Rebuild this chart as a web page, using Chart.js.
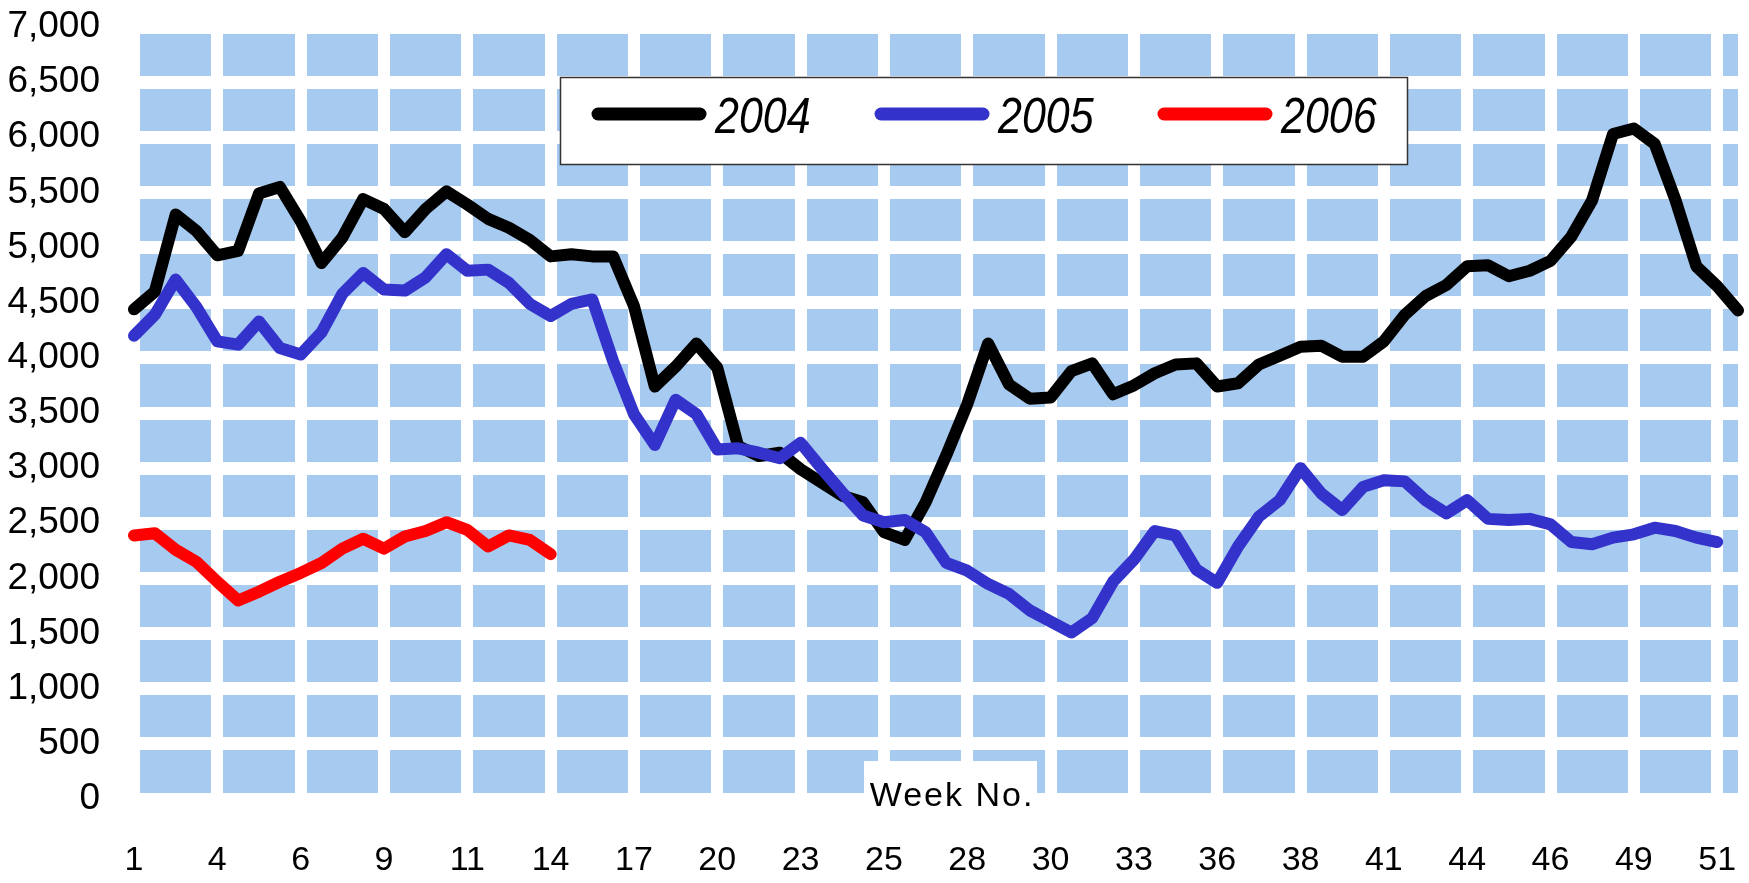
<!DOCTYPE html>
<html>
<head>
<meta charset="utf-8">
<script src="https://cdn.jsdelivr.net/npm/chart.js@4/dist/chart.umd.min.js"></script>
<style>
  html, body { margin: 0; padding: 0; background: #fff; }
  canvas { display: block; }
</style>
</head>
<body>
<canvas id="weekly" width="1749" height="883"></canvas>
<script>
// week numbers shown under every 4th point
const weekTicks = ['1', '4', '6', '9', '11', '14', '17', '20', '23', '25', '28', '30', '33', '36', '38', '41', '44', '46', '49', '51'];

const values2004 = [4440, 4600, 5300, 5150, 4930, 4970, 5490, 5550, 5240, 4860, 5090, 5440, 5350, 5140, 5350, 5510,
    5390, 5260, 5180, 5070, 4920, 4940, 4920, 4920, 4470, 3740, 3920, 4130, 3910, 3200, 3110, 3140,
    2990, 2870, 2750, 2690, 2420, 2350, 2690, 3120, 3580, 4130, 3760, 3630, 3640, 3880, 3950, 3670,
    3750, 3860, 3940, 3950, 3740, 3770, 3940, 4020, 4100, 4110, 4010, 4010, 4150, 4390, 4560, 4660,
    4830, 4840, 4740, 4790, 4880, 5100, 5430, 6030, 6080, 5940, 5430, 4830, 4650, 4430];

const values2005 = [4200, 4390, 4710, 4460, 4150, 4120, 4330, 4090, 4030, 4230, 4580, 4770, 4620, 4610, 4730, 4940,
    4790, 4800, 4680, 4490, 4380, 4490, 4530, 3970, 3490, 3210, 3620, 3490, 3170, 3180, 3140, 3090,
    3230, 3000, 2780, 2570, 2510, 2530, 2420, 2140, 2070, 1950, 1860, 1710, 1610, 1510, 1640, 1970,
    2170, 2430, 2390, 2080, 1960, 2290, 2560, 2710, 3000, 2770, 2620, 2830, 2890, 2880, 2710, 2590,
    2710, 2540, 2530, 2540, 2490, 2330, 2310, 2370, 2400, 2460, 2430, 2370, 2330];

const values2006 = [2390, 2410, 2260, 2150, 1970, 1800, 1880, 1970, 2050, 2140, 2270, 2360, 2270, 2380, 2430, 2510,
    2440, 2290, 2390, 2350, 2220];

const positions = values2004.map((v, i) => i);

const fontFamily = '"Liberation Sans", Arial, sans-serif';

// sky blue plot area, white grid goes on top of it
const plotBackground = {
    id: 'plotBackground',
    beforeDraw(chart) {
        const a = chart.chartArea;
        const ctx = chart.ctx;
        ctx.save();
        ctx.fillStyle = '#A6CAF0';
        ctx.fillRect(a.left, a.top, a.right - a.left, a.bottom - a.top);
        ctx.restore();
    }
};

// boxed legend sitting inside the plot
const legendBox = {
    id: 'legendBox',
    afterDatasetsDraw(chart) {
        const ctx = chart.ctx;
        const left = 560, top = 77, width = 847, height = 87;
        ctx.save();
        ctx.fillStyle = '#ffffff';
        ctx.fillRect(left, top, width, height);
        ctx.strokeStyle = '#333333';
        ctx.lineWidth = 1.5;
        ctx.strokeRect(left + 0.5, top + 0.5, width, height);
        const midY = top + 37;
        chart.data.datasets.forEach((ds, k) => {
            const x0 = left + 38 + k * 283;
            ctx.beginPath();
            ctx.lineCap = 'round';
            ctx.lineWidth = 13;
            ctx.strokeStyle = ds.borderColor;
            ctx.moveTo(x0, midY);
            ctx.lineTo(x0 + 102, midY);
            ctx.stroke();
            ctx.save();
            ctx.translate(x0 + 117, midY + 19);
            ctx.scale(0.86, 1);
            ctx.font = 'italic 50px ' + fontFamily;
            ctx.fillStyle = '#000000';
            ctx.textBaseline = 'alphabetic';
            ctx.fillText(ds.label, 0, 0);
            ctx.restore();
        });
        ctx.restore();
    }
};

// "Week No." label on a white patch over the bottom of the plot
const weekTitle = {
    id: 'weekTitle',
    afterDatasetsDraw(chart) {
        const ctx = chart.ctx;
        ctx.save();
        ctx.fillStyle = '#ffffff';
        ctx.fillRect(864, 761, 173, 50);
        ctx.fillStyle = '#000000';
        ctx.font = '34px ' + fontFamily;
        ctx.letterSpacing = '2px';
        ctx.textAlign = 'center';
        ctx.textBaseline = 'middle';
        ctx.fillText('Week No.', 952, 797);
        ctx.restore();
    }
};

Chart.defaults.font.family = fontFamily;
Chart.defaults.color = '#000000';

var ctx = document.getElementById('weekly').getContext('2d');
var weeklyChart = new Chart(ctx, {
    type: 'line',
    data: {
        labels: positions,
        datasets: [{
            label: '2004',
            data: values2004,
            borderColor: '#000000',
            borderWidth: 12,
            order: 3
        }, {
            label: '2005',
            data: values2005,
            borderColor: '#3333CC',
            borderWidth: 12,
            order: 2
        }, {
            label: '2006',
            data: values2006,
            borderColor: '#FF0000',
            borderWidth: 12,
            order: 1
        }]
    },
    options: {
        responsive: false,
        animation: false,
        devicePixelRatio: 1,
        layout: {
            padding: { top: 27, right: 11, left: 0, bottom: 0 }
        },
        elements: {
            line: {
                tension: 0,
                borderCapStyle: 'round',
                borderJoinStyle: 'round',
                fill: false
            },
            point: { radius: 0, hoverRadius: 0 }
        },
        plugins: {
            legend: { display: false },
            tooltip: { enabled: false }
        },
        scales: {
            x: {
                type: 'category',
                offset: false,
                ticks: {
                    autoSkip: false,
                    maxRotation: 0,
                    minRotation: 0,
                    padding: 41,
                    font: { size: 34 },
                    callback: (v, i) => (i % 4 === 0 ? weekTicks[i / 4] : '')
                },
                grid: {
                    color: (c) => (c.index % 4 === 0 ? '#ffffff' : 'rgba(0,0,0,0)'),
                    lineWidth: 12,
                    drawTicks: false
                },
                border: { display: false },
                afterFit(scale) {
                    scale.height = 84;
                    scale.paddingLeft = 0;
                    scale.paddingRight = 0;
                }
            },
            y: {
                min: 0,
                max: 7000,
                ticks: {
                    stepSize: 500,
                    padding: 34,
                    font: { size: 37 },
                    callback: (v) => v.toLocaleString('en-US')
                },
                grid: {
                    color: '#ffffff',
                    lineWidth: 13,
                    drawTicks: false
                },
                border: { display: false },
                afterFit(scale) {
                    scale.width = 134;
                    scale.paddingTop = 0;
                    scale.paddingBottom = 0;
                }
            }
        }
    },
    plugins: [plotBackground, legendBox, weekTitle]
});
</script>
</body>
</html>
